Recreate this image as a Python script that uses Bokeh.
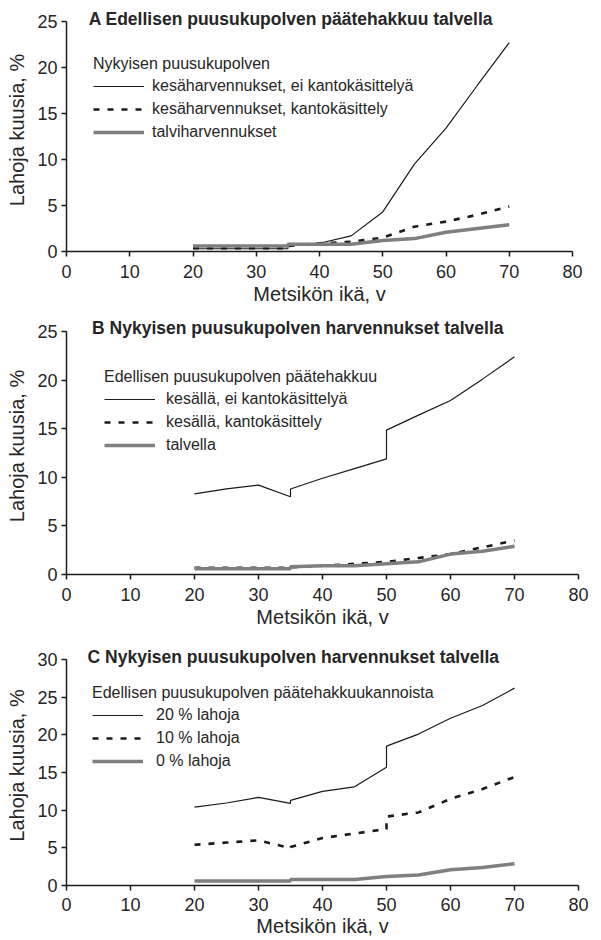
from bokeh.plotting import figure
from bokeh.layouts import column
from bokeh.models import Range1d, Legend, LegendItem, Label, FixedTicker
from bokeh.embed import file_html
from bokeh.resources import INLINE

FONT = "Liberation Sans"

# ---- data ----
ages = [20, 25, 30, 35, 35, 40, 45, 50, 50, 55, 60, 65, 70]

a_title = "A Edellisen puusukupolven päätehakkuu talvella"
a_legend_title = "Nykyisen puusukupolven"
a_labels = ["kesäharvennukset, ei kantokäsittelyä",
            "kesäharvennukset, kantokäsittely",
            "talviharvennukset"]
a_solid = [0.3, 0.3, 0.3, 0.3, 0.6, 0.9, 1.7, 4.3, 4.3, 9.5, 13.4, 18.1, 22.7]
a_dashed = [0.35, 0.35, 0.35, 0.35, 0.6, 0.9, 1.05, 1.5, 1.5, 2.7, 3.25, 4.0, 4.9]
a_gray = [0.6, 0.6, 0.6, 0.6, 0.8, 0.8, 0.8, 1.2, 1.2, 1.4, 2.1, 2.5, 2.9]

b_title = "B Nykyisen puusukupolven harvennukset talvella"
b_legend_title = "Edellisen puusukupolven päätehakkuu"
b_labels = ["kesällä, ei kantokäsittelyä",
            "kesällä, kantokäsittely",
            "talvella"]
b_solid = [8.3, 8.8, 9.2, 8.0, 8.8, 9.9, 10.9, 11.9, 14.85, 16.4, 17.9, 20.1, 22.4]
b_dashed = [0.7, 0.7, 0.7, 0.7, 0.75, 0.9, 1.1, 1.3, 1.3, 1.7, 2.1, 2.8, 3.5]
b_gray = [0.6, 0.6, 0.6, 0.6, 0.8, 0.9, 0.9, 1.1, 1.1, 1.3, 2.1, 2.4, 2.9]

c_title = "C Nykyisen puusukupolven harvennukset talvella"
c_legend_title = "Edellisen puusukupolven päätehakkuukannoista"
c_labels = ["20 % lahoja", "10 % lahoja", "0 % lahoja"]
c_solid = [10.4, 10.95, 11.7, 10.9, 11.3, 12.5, 13.1, 15.7, 18.5, 20.1, 22.2, 23.9, 26.2]
c_dashed = [5.4, 5.7, 6.0, 4.95, 5.1, 6.3, 6.9, 7.5, 9.15, 9.7, 11.5, 12.8, 14.4]
c_gray = [0.6, 0.6, 0.6, 0.6, 0.8, 0.8, 0.8, 1.2, 1.2, 1.4, 2.1, 2.4, 2.9]

x_ticks = [0, 10, 20, 30, 40, 50, 60, 70, 80]
x_label = "Metsikön ikä, v"
y_label = "Lahoja kuusia, %"

TXT = "#262626"
LINE = "#1a1a1a"
W = 600


def panel(title, ltitle, labels, solid, dashed, gray, ymax, yticks,
          min_top, extra, data_h, left, frame_w, border_bottom,
          tick_standoff, label_standoff,
          title_x, title_px, leg_loc, leg_standoff):
    frame_h = data_h + extra
    yend = ymax * frame_h / data_h
    p = figure(width=W, frame_width=frame_w, frame_height=frame_h,
               min_border_top=min_top, min_border_bottom=border_bottom,
               min_border_left=left, min_border_right=W - left - frame_w,
               x_range=Range1d(0, 80), y_range=Range1d(0, yend),
               output_backend="svg", toolbar_location=None)
    p.outline_line_color = None
    p.xgrid.visible = False
    p.ygrid.visible = False
    p.background_fill_color = "white"

    for ax in (p.xaxis[0], p.yaxis[0]):
        ax.axis_line_color = LINE
        ax.axis_line_width = 1.5
        ax.major_tick_line_color = LINE
        ax.major_tick_line_width = 1.5
        ax.major_tick_out = 5
        ax.major_tick_in = 0
        ax.minor_tick_line_color = None
        ax.major_label_text_font = FONT
        ax.major_label_text_font_size = "18px"
        ax.major_label_text_color = TXT
        ax.axis_label_text_font = FONT
        ax.axis_label_text_font_size = "20px"
        ax.axis_label_text_font_style = "normal"
        ax.axis_label_text_color = TXT
    p.xaxis[0].ticker = FixedTicker(ticks=x_ticks)
    p.yaxis[0].ticker = FixedTicker(ticks=yticks)
    p.yaxis[0].bounds = (0, ymax)
    p.xaxis[0].axis_label = x_label
    p.yaxis[0].axis_label = y_label
    p.xaxis[0].major_label_standoff = tick_standoff
    p.xaxis[0].axis_label_standoff = label_standoff
    p.yaxis[0].major_label_standoff = 4
    p.yaxis[0].axis_label_standoff = 6

    r1 = p.line(ages, solid, line_color=LINE, line_width=1.2)
    r2 = p.line(ages, dashed, line_color=LINE, line_width=2.6,
                line_dash="6 8")
    r3 = p.line(ages, gray, line_color="#7f7f7f", line_width=3.5)

    legend = Legend(
        items=[LegendItem(label=labels[0], renderers=[r1]),
               LegendItem(label=labels[1], renderers=[r2]),
               LegendItem(label=labels[2], renderers=[r3])],
        title=ltitle, location=leg_loc,
        title_text_font=FONT, title_text_font_size="16px",
        title_text_font_style="normal", title_text_color=TXT,
        title_standoff=3,
        label_text_font=FONT, label_text_font_size="16px",
        label_text_color=TXT,
        glyph_width=51, glyph_height=20, label_height=20, spacing=3,
        label_standoff=leg_standoff, padding=0, margin=0,
        border_line_alpha=0, background_fill_alpha=0)
    p.add_layout(legend)

    title_y = ymax + title_px * ymax / data_h
    p.add_layout(Label(x=title_x, y=title_y, text=title,
                       text_font=FONT, text_font_size="17.5px",
                       text_font_style="bold", text_color=TXT,
                       text_baseline="middle"))
    return p


pa = panel(a_title, a_legend_title, a_labels, a_solid, a_dashed, a_gray,
           25, [0, 5, 10, 15, 20, 25],
           8, 13, 230, 64, 506, 66, 8, 2,
           3.5, 3, (27, 109), 8)
pb = panel(b_title, b_legend_title, b_labels, b_solid, b_dashed, b_gray,
           25, [0, 5, 10, 15, 20, 25],
           0, 14, 243, 65, 512, 71, 8, 2,
           4.0, 4, (38, 119), 11)
pc = panel(c_title, c_legend_title, c_labels, c_solid, c_dashed, c_gray,
           30, [0, 5, 10, 15, 20, 25, 30],
           0, 14, 226, 66, 512, 55, 7, 1,
           3.3, 2.5, (26, 114), 13)

layout = column(pa, pb, pc, spacing=0)
open("out.html", "w").write(file_html(layout, INLINE))
